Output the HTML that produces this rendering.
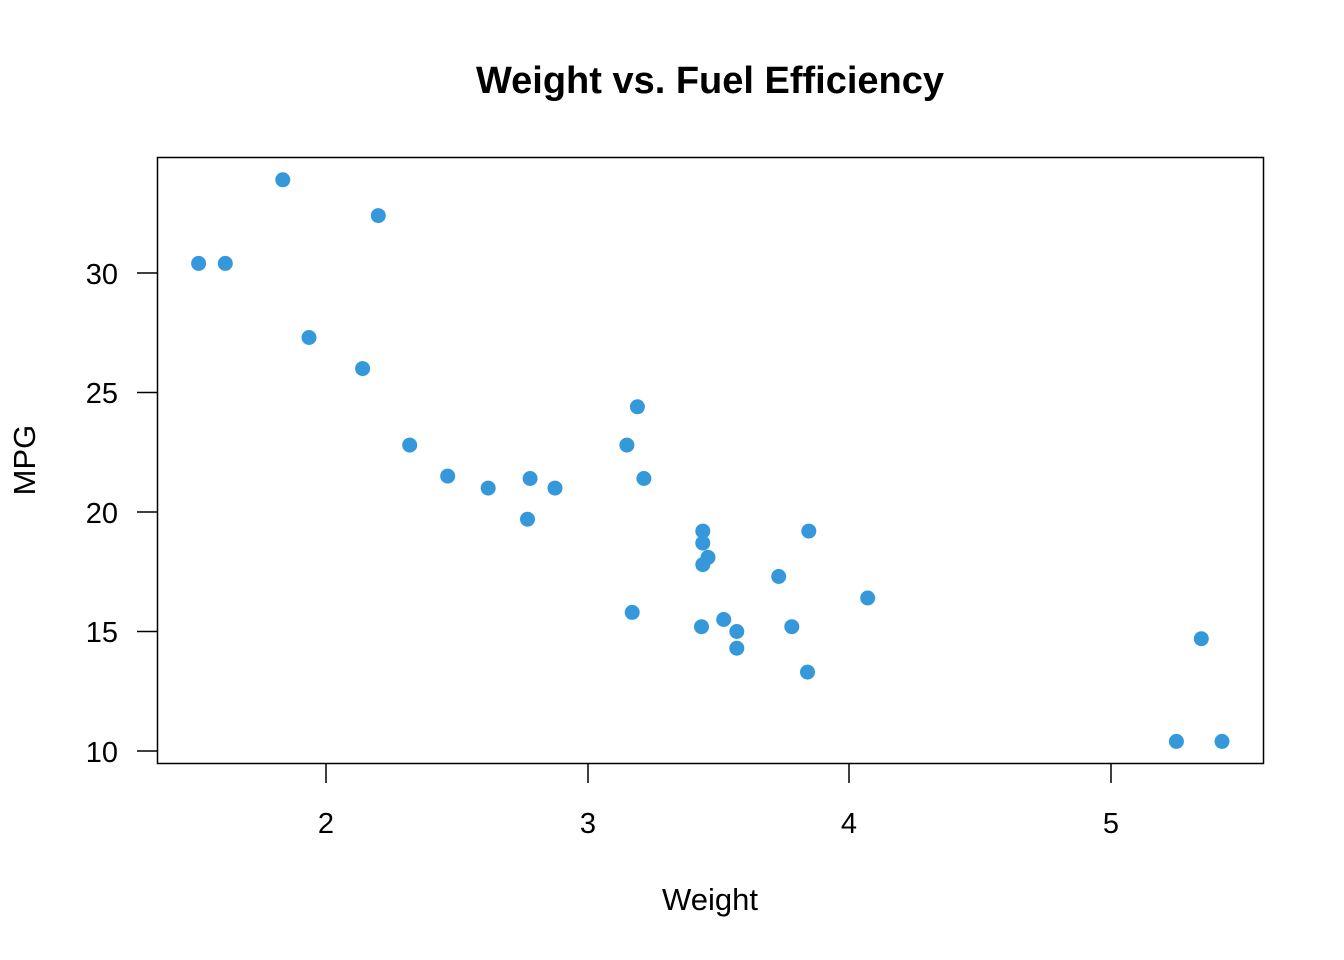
<!DOCTYPE html>
<html><head><meta charset="utf-8"><style>
html,body{margin:0;padding:0;background:#fff;}
svg{display:block;}
text{font-family:"Liberation Sans",Arial,sans-serif;fill:#000;}
</style></head><body>
<svg width="1344" height="960" viewBox="0 0 1344 960" xmlns="http://www.w3.org/2000/svg">
<rect x="0" y="0" width="1344" height="960" fill="#fff"/>
<text x="710" y="93" font-size="38" font-weight="bold" text-anchor="middle">Weight vs. Fuel Efficiency</text>
<rect x="157.5" y="157.5" width="1106" height="606" fill="none" stroke="#000" stroke-width="1.5"/>
<g stroke="#000" stroke-width="1.5">
<line x1="326" y1="763" x2="326" y2="783"/>
<line x1="588" y1="763" x2="588" y2="783"/>
<line x1="849" y1="763" x2="849" y2="783"/>
<line x1="1111" y1="763" x2="1111" y2="783"/>
<line x1="137" y1="751" x2="157" y2="751"/>
<line x1="137" y1="631.5" x2="157" y2="631.5"/>
<line x1="137" y1="512" x2="157" y2="512"/>
<line x1="137" y1="392.5" x2="157" y2="392.5"/>
<line x1="137" y1="273" x2="157" y2="273"/>
</g>
<g font-size="29" text-anchor="middle">
<text x="326" y="833">2</text>
<text x="588" y="833">3</text>
<text x="849" y="833">4</text>
<text x="1111" y="833">5</text>
</g>
<g font-size="29" text-anchor="end">
<text x="118" y="762">10</text>
<text x="118" y="642">15</text>
<text x="118" y="523">20</text>
<text x="118" y="403">25</text>
<text x="118" y="284">30</text>
</g>
<text x="710" y="910" font-size="31" text-anchor="middle">Weight</text>
<text x="0" y="0" font-size="31" text-anchor="middle" transform="translate(35,460) rotate(-90)">MPG</text>
<g fill="#3498db">
<circle cx="488.2" cy="488.1" r="7.5"/>
<circle cx="555.0" cy="488.1" r="7.5"/>
<circle cx="409.7" cy="445.1" r="7.5"/>
<circle cx="643.9" cy="478.5" r="7.5"/>
<circle cx="702.8" cy="543.1" r="7.5"/>
<circle cx="708.0" cy="557.4" r="7.5"/>
<circle cx="736.8" cy="648.2" r="7.5"/>
<circle cx="637.4" cy="406.8" r="7.5"/>
<circle cx="626.9" cy="445.1" r="7.5"/>
<circle cx="702.8" cy="531.1" r="7.5"/>
<circle cx="702.8" cy="564.6" r="7.5"/>
<circle cx="867.7" cy="598.0" r="7.5"/>
<circle cx="778.7" cy="576.5" r="7.5"/>
<circle cx="791.8" cy="626.7" r="7.5"/>
<circle cx="1176.4" cy="741.4" r="7.5"/>
<circle cx="1222.0" cy="741.4" r="7.5"/>
<circle cx="1201.3" cy="638.7" r="7.5"/>
<circle cx="378.3" cy="215.6" r="7.5"/>
<circle cx="225.3" cy="263.4" r="7.5"/>
<circle cx="282.8" cy="179.8" r="7.5"/>
<circle cx="447.7" cy="476.1" r="7.5"/>
<circle cx="723.7" cy="619.5" r="7.5"/>
<circle cx="701.5" cy="626.7" r="7.5"/>
<circle cx="807.5" cy="672.1" r="7.5"/>
<circle cx="808.8" cy="531.1" r="7.5"/>
<circle cx="309.0" cy="337.5" r="7.5"/>
<circle cx="362.6" cy="368.6" r="7.5"/>
<circle cx="198.6" cy="263.4" r="7.5"/>
<circle cx="632.2" cy="612.4" r="7.5"/>
<circle cx="527.5" cy="519.2" r="7.5"/>
<circle cx="736.8" cy="631.5" r="7.5"/>
<circle cx="530.1" cy="478.5" r="7.5"/>
</g>
</svg>
</body></html>
